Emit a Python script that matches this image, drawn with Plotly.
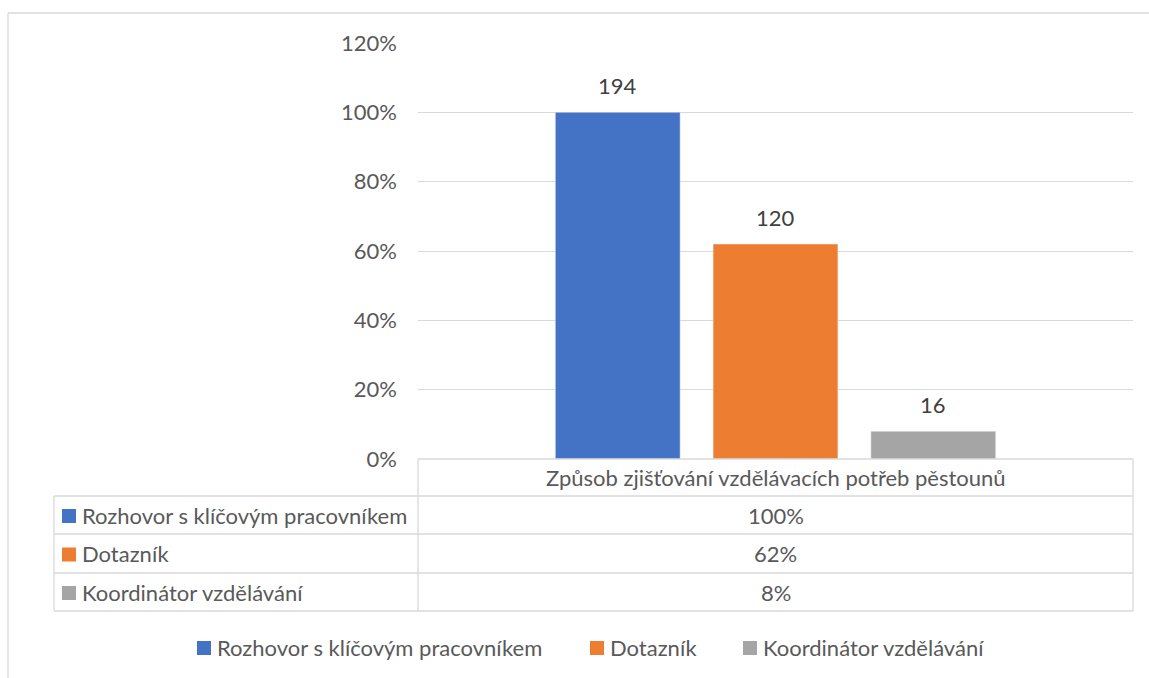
import plotly.graph_objects as go

category = ["Způsob zjišťování vzdělávacích potřeb pěstounů"]
series_names = ["Rozhovor s klíčovým pracovníkem", "Dotazník", "Koordinátor vzdělávání"]
series_pct = [1.00, 0.62, 0.08]
series_counts = [194, 120, 16]
series_pct_labels = ["100%", "62%", "8%"]
colors = ["#4472C4", "#ED7D31", "#A5A5A5"]
y_ticks = [0, 0.2, 0.4, 0.6, 0.8, 1.0, 1.2]

W, H = 1149, 678
L, R, T, B = 418, 1133, 43, 459
FONT = "Lato"
FS = 22
TXT = "#595959"
GRID = "#D9D9D9"
BARGAP, GROUPGAP = 0.338, 0.209


def px(xp):
    return (xp - L) / (R - L)


def py(yp):
    return (B - yp) / (B - T)


fig = go.Figure()
for name, v, col in zip(series_names, series_pct, colors):
    fig.add_trace(go.Bar(x=category, y=[v], name=name, marker_color=col,
                         hoverinfo="name+y"))

shapes = []
annotations = []

# bar value labels (counts) above each bar
slot_px = (1 - BARGAP) * (R - L) / len(series_names)
for i, (v, c) in enumerate(zip(series_pct, series_counts)):
    annotations.append(dict(x=category[0], y=v, xref="x", yref="y", text=str(c),
                            showarrow=False, xanchor="center", yanchor="bottom",
                            xshift=(i - (len(series_names) - 1) / 2) * slot_px, yshift=11,
                            font=dict(family=FONT, size=FS, color="#404040")))


def line(x0, y0, x1, y1, color=GRID, w=1.3):
    shapes.append(dict(type="line", xref="paper", yref="paper",
                       x0=px(x0), y0=py(y0), x1=px(x1), y1=py(y1),
                       line=dict(color=color, width=w)))


# outer chart frame
line(8, 13, 1170, 13)
line(8, 13, 8, 700)

# data table
tl, tm, tr = 54, 418, 1133
rows_y = [459, 496, 534, 573, 611]
line(tm, rows_y[0], tr, rows_y[0])
for yy in rows_y[1:]:
    line(tl, yy, tr, yy)
line(tl, rows_y[1], tl, rows_y[-1])
line(tm, rows_y[0], tm, rows_y[-1])
line(tr, rows_y[0], tr, rows_y[-1])

annotations.append(dict(x=px((tm + tr) / 2), y=py((rows_y[0] + rows_y[1]) / 2),
                        xref="paper", yref="paper", text=category[0], showarrow=False,
                        xanchor="center", yanchor="middle",
                        font=dict(family=FONT, size=FS, color=TXT)))
for i, (name, lab, col) in enumerate(zip(series_names, series_pct_labels, colors)):
    yc = (rows_y[i + 1] + rows_y[i + 2]) / 2
    shapes.append(dict(type="rect", xref="paper", yref="paper",
                       x0=px(62), x1=px(76), y0=py(yc - 6), y1=py(yc + 8),
                       fillcolor=col, line=dict(width=0)))
    annotations.append(dict(x=px(80), y=py(yc), xref="paper", yref="paper",
                            text=name, showarrow=False, xanchor="left", yanchor="middle",
                            font=dict(family=FONT, size=FS, color=TXT)))
    annotations.append(dict(x=px((tm + tr) / 2), y=py(yc), xref="paper", yref="paper",
                            text=lab, showarrow=False, xanchor="center", yanchor="middle",
                            font=dict(family=FONT, size=FS, color=TXT)))

# legend (below the data table)
legend_x = [197, 590, 743]
legend_y = 647
for name, col, lx in zip(series_names, colors, legend_x):
    shapes.append(dict(type="rect", xref="paper", yref="paper",
                       x0=px(lx), x1=px(lx + 14), y0=py(legend_y - 6), y1=py(legend_y + 8),
                       fillcolor=col, line=dict(width=0)))
    annotations.append(dict(x=px(lx + 18), y=py(legend_y), xref="paper", yref="paper",
                            text=name, showarrow=False, xanchor="left", yanchor="middle",
                            font=dict(family=FONT, size=FS, color=TXT)))

fig.update_layout(
    width=W, height=H,
    margin=dict(l=L, r=W - R, t=T, b=H - B),
    paper_bgcolor="white", plot_bgcolor="white",
    barmode="group", bargap=BARGAP, bargroupgap=GROUPGAP,
    showlegend=False,
    shapes=shapes, annotations=annotations,
    font=dict(family=FONT, color=TXT),
)
fig.update_yaxes(range=[0, 1.2], tickvals=y_ticks, tickformat=".0%",
                 showgrid=True, gridcolor=GRID, gridwidth=1.3, zeroline=False,
                 showline=False, ticks="", ticklabelstandoff=20,
                 tickfont=dict(family=FONT, size=FS, color=TXT))
fig.update_xaxes(showticklabels=False, showgrid=False, zeroline=False, showline=False)

fig.write_html("out.html", config={"displayModeBar": False},
               post_script="document.body.style.margin='0';document.body.style.overflow='hidden';")
